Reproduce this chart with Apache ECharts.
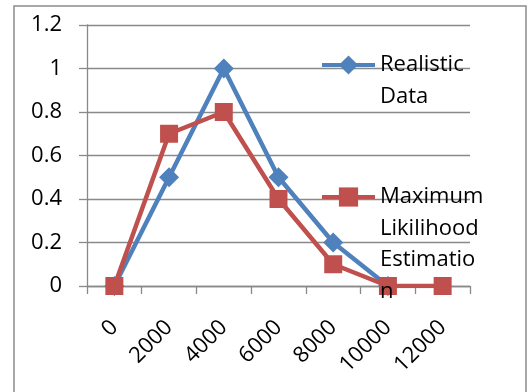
<!DOCTYPE html>
<html>
<head>
<meta charset="utf-8">
<script src="https://cdn.jsdelivr.net/npm/echarts@6/dist/echarts.min.js"></script>
<style>
  html, body { margin: 0; padding: 0; background: #fff; }
  #chart { width: 529px; height: 392px; }
</style>
</head>
<body>
<div id="chart"></div>
<script>
// Category labels along the bottom axis
const categories = ['0', '2000', '4000', '6000', '8000', '10000', '12000'];
// Measured distribution
const realisticData = [0, 0.5, 1, 0.5, 0.2, 0, null];
// Fitted distribution
const mleData = [0, 0.7, 0.8, 0.4, 0.1, 0, 0];
// Value axis range
const yMin = 0, yMax = 1.2, yStep = 0.2;

const FONT = 'Open Sans';
const FS = 22;
const GRAY = '#898989';
const LH = 31.5;

// Legend labels are wrapped by hand; blank lines are prepended so the
// vertically centred text block puts its first real line beside the icon
const legendLabels = {
  'Realistic Data': ['Realistic', 'Data'],
  'Maximum Likilihood Estimation': ['Maximum', 'Likilihood', 'Estimatio', 'n']
};
function legendText(name) {
  const lines = legendLabels[name];
  return new Array(lines.length - 1).fill('').concat(lines).join('\n');
}
function blockHalf(name) {
  return (2 * legendLabels[name].length - 1) * LH / 2;
}
const legendCommon = {
  orient: 'vertical',
  left: 320,
  padding: 0,
  itemWidth: 53,
  itemHeight: 24,
  itemGap: 5,
  selectedMode: false,
  formatter: legendText,
  lineStyle: { width: 4 },
  textStyle: { fontFamily: FONT, fontSize: FS, color: '#000', lineHeight: LH }
};

const chart = echarts.init(document.getElementById('chart'), null, { renderer: 'canvas' });
chart.setOption({
  animation: false,
  backgroundColor: '#fff',
  graphic: [{
    type: 'rect',
    shape: { x: 14, y: 6, width: 512, height: 400 },
    style: { fill: 'none', stroke: '#8c8c8c', lineWidth: 1.5 },
    silent: true
  }],
  grid: { left: 87, right: 59, top: 25, bottom: 106 },
  legend: [
    Object.assign({}, legendCommon, { top: 65 - blockHalf('Realistic Data'), data: ['Realistic Data'] }),
    Object.assign({}, legendCommon, { top: 197 - blockHalf('Maximum Likilihood Estimation'), data: ['Maximum Likilihood Estimation'] })
  ],
  xAxis: {
    type: 'category',
    data: categories,
    boundaryGap: true,
    axisLine: { lineStyle: { color: GRAY, width: 1.3 } },
    axisTick: { show: true, length: 8, interval: 0, lineStyle: { color: GRAY, width: 1.3 } },
    axisLabel: { interval: 0, rotate: 45, margin: 38, fontFamily: FONT, fontSize: FS, color: '#000' }
  },
  yAxis: {
    type: 'value',
    min: yMin, max: yMax, interval: yStep,
    axisLine: { show: true, lineStyle: { color: GRAY, width: 1.3 } },
    axisTick: { show: true, length: 8, lineStyle: { color: GRAY, width: 1.3 } },
    splitLine: { lineStyle: { color: GRAY, width: 1.3 } },
    axisLabel: {
      margin: 25, fontFamily: FONT, fontSize: FS, color: '#000',
      formatter: v => String(+v.toFixed(1))
    }
  },
  series: [
    {
      name: 'Realistic Data',
      type: 'line',
      data: realisticData,
      symbol: 'diamond',
      symbolSize: 20,
      color: '#4F81BD',
      lineStyle: { width: 4.5, color: '#4F81BD' },
      itemStyle: { color: '#4F81BD' }
    },
    {
      name: 'Maximum Likilihood Estimation',
      type: 'line',
      data: mleData,
      symbol: 'rect',
      symbolSize: 18,
      color: '#C0504D',
      lineStyle: { width: 4.5, color: '#C0504D' },
      itemStyle: { color: '#C0504D' }
    }
  ]
});
</script>
</body>
</html>
